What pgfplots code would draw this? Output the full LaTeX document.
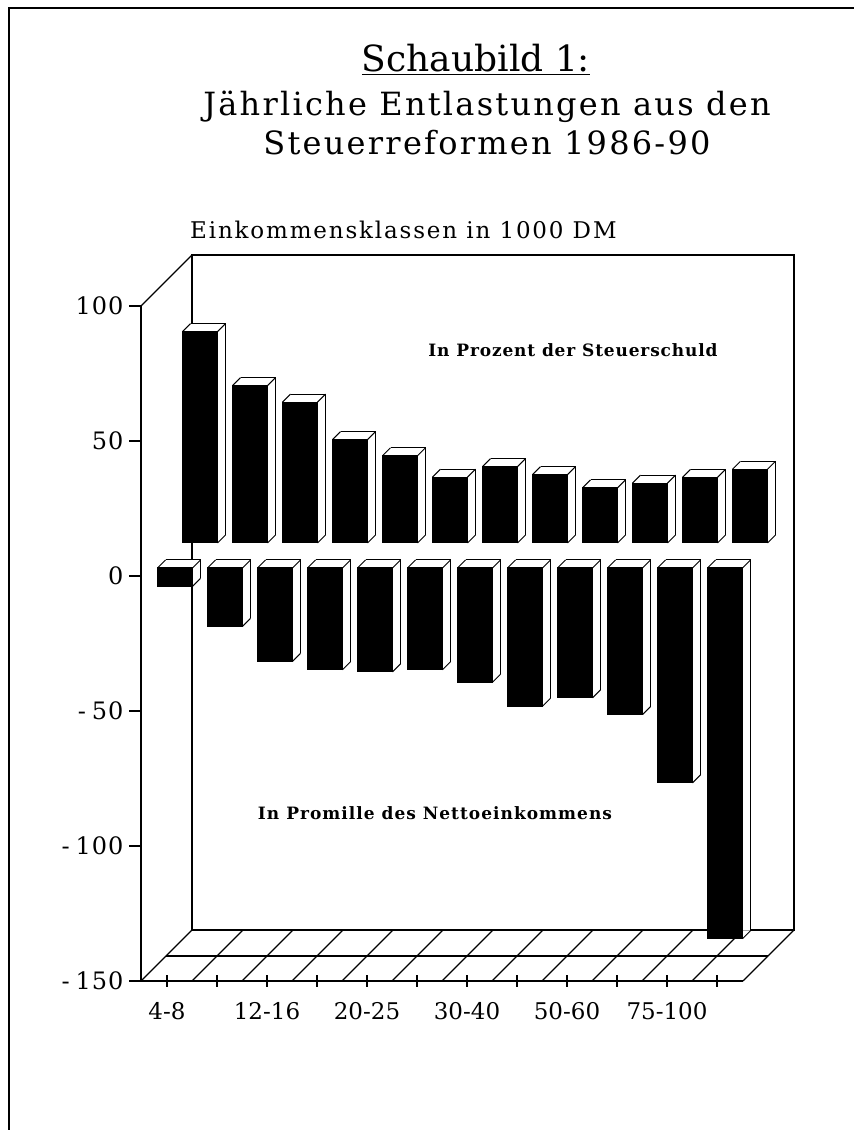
\documentclass[border=0pt]{standalone}
\usepackage{pgfplots}
\pgfplotsset{compat=1.18}
\usepackage{pgfplotstable}
\usepackage{fontspec}
\setmainfont{DejaVu Serif}
\pgfplotstableread{
x P N
0 78.3 -6.8
1 58.3 -21.6
2 52.2 -34.6
3 38.3 -37.7
4 32.3 -38.5
5 24.4 -37.7
6 28.3 -42.3
7 25.3 -51.2
8 20.4 -48.1
9 22.2 -54.3
10 24.3 -79.6
11 27.3 -137.3
}\datatable
\begin{document}
\begin{tikzpicture}[x=1pt,y=1pt]
\useasboundingbox (0,0) rectangle (854,1130);
\draw[line width=1.3pt] (9,0) -- (9,1122) -- (854,1122);
\node[anchor=base] at (476,1058) {\fontsize{36}{40}\selectfont\underline{Schaubild 1:}};
\node[anchor=base] at (487,1014) {\fontsize{32}{36}\selectfont\addfontfeatures{LetterSpace=7}Jährliche Entlastungen aus den};
\node[anchor=base] at (487,975) {\fontsize{32}{36}\selectfont\addfontfeatures{LetterSpace=7}Steuerreformen 1986-90};
\node[anchor=base west, inner sep=0pt] at (190,891) {\fontsize{23}{26}\selectfont\addfontfeatures{LetterSpace=8}Einkommensklassen in 1000 DM};
\node at (573,780) {\fontsize{17}{20}\selectfont\bfseries\addfontfeatures{LetterSpace=5}In Prozent der Steuerschuld};
\node at (435,317) {\fontsize{17}{20}\selectfont\bfseries\addfontfeatures{LetterSpace=6}In Promille des Nettoeinkommens};
\begin{axis}[
  at={(141pt,149pt)}, anchor=south west, scale only axis,
  width=602pt, height=675pt,
  xmin=-0.52, xmax=11.52, ymin=-150, ymax=100,
  clip=false,
  axis lines*=left,
  axis line style={line width=1.3pt},
  xtick={0,...,11},
  xticklabels={4-8,,12-16,,20-25,,30-40,,50-60,,75-100,},
  ytick={-150,-100,-50,0,50,100},
  yticklabels={{-\hspace{6pt}150},{-\hspace{6pt}100},{-\hspace{6pt}50},0,50,100},
  xtick align=center, ytick align=outside,
  major tick length=12pt,
  tick style={line width=1.1pt, black},
  xticklabel style={font=\fontsize{23}{26}\selectfont, yshift=-12pt},
  yticklabel style={font=\fontsize{24}{28}\selectfont\addfontfeatures{LetterSpace=4}, xshift=-2pt},
]
% back wall and floor
\draw[line width=1.3pt, xshift=51pt, yshift=51pt] (axis cs:-0.52,-150) rectangle (axis cs:11.52,100);
\draw[line width=1.3pt] (axis cs:-0.52,100) -- ++(51pt,51pt);
\draw[line width=1.3pt, xshift=25pt, yshift=25pt] (axis cs:-0.52,-150) -- (axis cs:11.52,-150);
\pgfplotsinvokeforeach{-0.52,0.5,1.5,2.5,3.5,4.5,5.5,6.5,7.5,8.5,9.5,10.5,11.52}{
  \draw[line width=1.3pt] (axis cs:#1,-150) -- ++(51pt,51pt);
}
% back row: In Prozent der Steuerschuld
\addplot[ybar, bar width=0.7, bar shift=0pt, fill=white, draw=none, xshift=41pt, yshift=41pt] table[x=x,y=P]{\datatable};
\addplot[ybar, bar width=0.7, bar shift=0pt, fill=black, draw=black, line width=1pt, xshift=33pt, yshift=33pt] table[x=x,y=P]{\datatable};
\addplot[quiver={u=0.16,v=2.963}, -, mark=none, line width=1pt, xshift=33pt, yshift=33pt] table[x expr=\thisrow{x}-0.35, y=P]{\datatable};
\addplot[quiver={u=0.16,v=2.963}, -, mark=none, line width=1pt, xshift=33pt, yshift=33pt] table[x expr=\thisrow{x}+0.35, y=P]{\datatable};
\addplot[quiver={u=0.16,v=2.963}, -, mark=none, line width=1pt, xshift=33pt, yshift=33pt] table[x expr=\thisrow{x}+0.35, y expr=0]{\datatable};
\addplot[quiver={u=0.7,v=0}, -, mark=none, line width=1pt, xshift=33pt, yshift=33pt] table[x expr=\thisrow{x}-0.19, y expr=\thisrow{P}+2.963]{\datatable};
\addplot[quiver={u=0,v=-\thisrow{P}}, -, mark=none, line width=1pt, xshift=33pt, yshift=33pt] table[x expr=\thisrow{x}+0.51, y expr=\thisrow{P}+2.963]{\datatable};
% front row: In Promille des Nettoeinkommens
\addplot[ybar, bar width=0.7, bar shift=0pt, fill=white, draw=none, xshift=16pt, yshift=16pt] table[x=x,y=N]{\datatable};
\addplot[ybar, bar width=0.7, bar shift=0pt, fill=black, draw=black, line width=1pt, xshift=8pt, yshift=8pt] table[x=x,y=N]{\datatable};
\addplot[quiver={u=0.16,v=2.963}, -, mark=none, line width=1pt, xshift=8pt, yshift=8pt] table[x expr=\thisrow{x}-0.35, y expr=0]{\datatable};
\addplot[quiver={u=0.16,v=2.963}, -, mark=none, line width=1pt, xshift=8pt, yshift=8pt] table[x expr=\thisrow{x}+0.35, y expr=0]{\datatable};
\addplot[quiver={u=0.16,v=2.963}, -, mark=none, line width=1pt, xshift=8pt, yshift=8pt] table[x expr=\thisrow{x}+0.35, y=N]{\datatable};
\addplot[quiver={u=0.7,v=0}, -, mark=none, line width=1pt, xshift=8pt, yshift=8pt] table[x expr=\thisrow{x}-0.19, y expr=2.963]{\datatable};
\addplot[quiver={u=0,v=\thisrow{N}}, -, mark=none, line width=1pt, xshift=8pt, yshift=8pt] table[x expr=\thisrow{x}+0.51, y expr=2.963]{\datatable};
\end{axis}
\end{tikzpicture}
\end{document}
